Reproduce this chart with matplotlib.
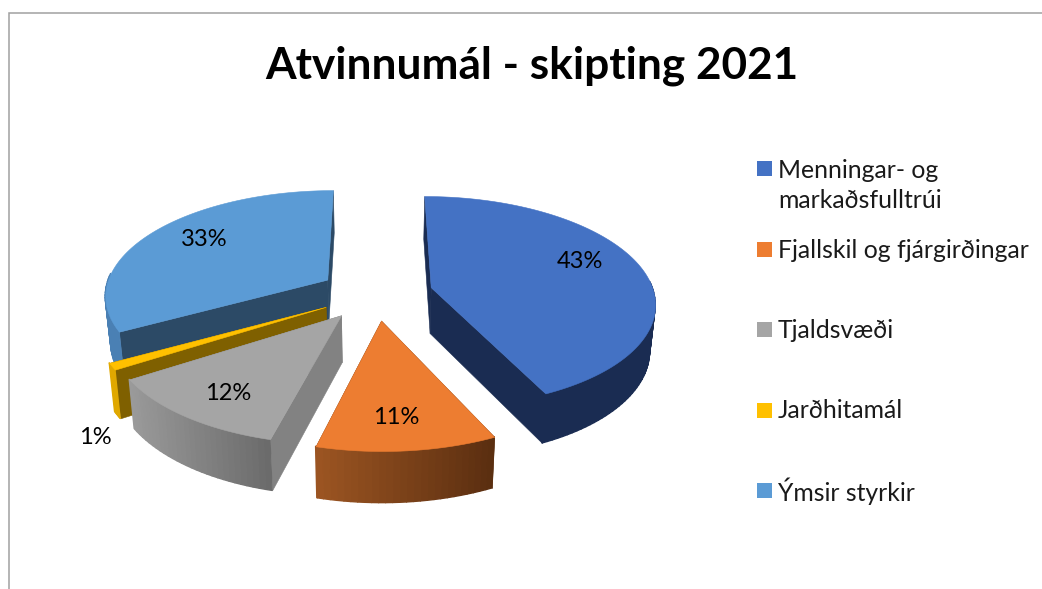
import numpy as np
import matplotlib
matplotlib.use("Agg")
import matplotlib.pyplot as plt
from matplotlib.collections import PolyCollection
from matplotlib.colors import to_rgb
from matplotlib.patches import Rectangle

plt.rcParams['font.family'] = ['Lato', 'DejaVu Sans']

# ---- data ----
title = "Atvinnumál - skipting 2021"
categories = ["Menningar- og\nmarkaðsfulltrúi", "Fjallskil og fjárgirðingar",
              "Tjaldsvæði", "Jarðhitamál", "Ýmsir styrkir"]
shares = [43, 11, 12, 1, 33]

# ---- styles ----
top_colors = ["#4472c4", "#ed7d31", "#a5a5a5", "#ffc000", "#5b9bd5"]
rim_left = ["#1a2c52", "#9c5522", "#9a9a9a", "#e0a800", "#4a80b4"]
rim_right = ["#1a2c52", "#5a2e10", "#6a6a6a", "#e0a800", "#4a80b4"]
wall_colors = ["#1a2c52", "#5a2e10", "#828282", "#7f6000", "#2c4a66"]
label_xy = [(580, 261), (396, 418), (228, 393), (95, 438), (204, 239)]
marker_y = [168.5, 249.5, 329.5, 410.5, 490.5]
text_y = [170, 251, 331, 411, 491]
draw_order = [4, 3, 2, 1, 0]

# projection of the pie plane to the picture
CX, CY, R, EXPLODE = 375.5, 293.0, 223.0, 57.0
YS, K = 0.47, 0.0006


def persp(v):
    return 1.0 / (1.0 - K * v)


def top_xy(u, v):
    s = persp(v)
    return np.column_stack([CX + u * s, CY + YS * v * s])


def bottom_xy(u, v):
    s = persp(v)
    return np.column_stack([CX + 0.98 * u * s, CY + YS * v * s + 46 + 28 * (s - 1)])


fig = plt.figure(figsize=(10.42, 5.89), dpi=100)
ax = fig.add_axes([0, 0, 1, 1])
ax.set_xlim(0, 1042)
ax.set_ylim(589, 0)
ax.axis("off")

# chart frame
ax.plot([9, 9, 1042], [589, 12.5, 12.5], color="#a0a0a0", lw=1.1, solid_joinstyle="miter")

fractions = np.array(shares, dtype=float) / sum(shares)
edges = np.concatenate([[0], np.cumsum(fractions)]) * 2 * np.pi

for i in draw_order:
    a0, a1 = edges[i], edges[i + 1]
    mid = (a0 + a1) / 2
    au = EXPLODE * np.sin(mid)
    av = -EXPLODE * np.cos(mid)
    th = np.linspace(a0, a1, max(int((a1 - a0) * 40), 6))
    ru = au + R * np.sin(th)
    rv = av - R * np.cos(th)

    rim_top = top_xy(ru, rv)
    rim_bot = bottom_xy(ru, rv)
    apex_top = top_xy(np.array([au]), np.array([av]))[0]
    apex_bot = bottom_xy(np.array([au]), np.array([av]))[0]

    # radial walls
    for j in (0, -1):
        wall = [apex_top, rim_top[j], rim_bot[j], apex_bot]
        ax.add_collection(PolyCollection([wall], facecolors=wall_colors[i],
                                         edgecolors=wall_colors[i], linewidths=0.4))

    # outer rim with a left-to-right shade; only the part facing the viewer
    xmin, xmax = rim_top[:, 0].min(), rim_top[:, 0].max()
    polys, cols = [], []
    cl, cr = np.array(to_rgb(rim_left[i])), np.array(to_rgb(rim_right[i]))
    for n in range(len(th) - 1):
        if -np.cos((th[n] + th[n + 1]) / 2) < -0.05:
            continue
        polys.append([rim_top[n], rim_top[n + 1], rim_bot[n + 1], rim_bot[n]])
        t = ((rim_top[n, 0] + rim_top[n + 1, 0]) / 2 - xmin) / max(xmax - xmin, 1)
        cols.append(tuple(cl + (cr - cl) * t))
    if polys:
        ax.add_collection(PolyCollection(polys, facecolors=cols, edgecolors=cols,
                                         linewidths=1.0))

    # top face
    face = np.vstack([apex_top, rim_top])
    ax.add_collection(PolyCollection([face], facecolors=top_colors[i],
                                     edgecolors=top_colors[i], linewidths=0.4))

# value labels
for v, (x, y) in zip(shares, label_xy):
    ax.text(x, y, f"{v}%", fontsize=17, color="black", ha="center", va="center")

# legend
for name, col, my, ty in zip(categories, top_colors, marker_y, text_y):
    ax.add_patch(Rectangle((757, my - 7.5), 15, 15, facecolor=col, edgecolor="none"))
    for k, part in enumerate(name.split("\n")):
        ax.text(778, ty + k * 31, part, fontsize=17.8, color="#1a1a1a", ha="left", va="center")

ax.text(532, 66, title, fontsize=31.8, fontweight="bold", color="black", ha="center", va="center")

fig.savefig("out.png", dpi=100, facecolor="white")
